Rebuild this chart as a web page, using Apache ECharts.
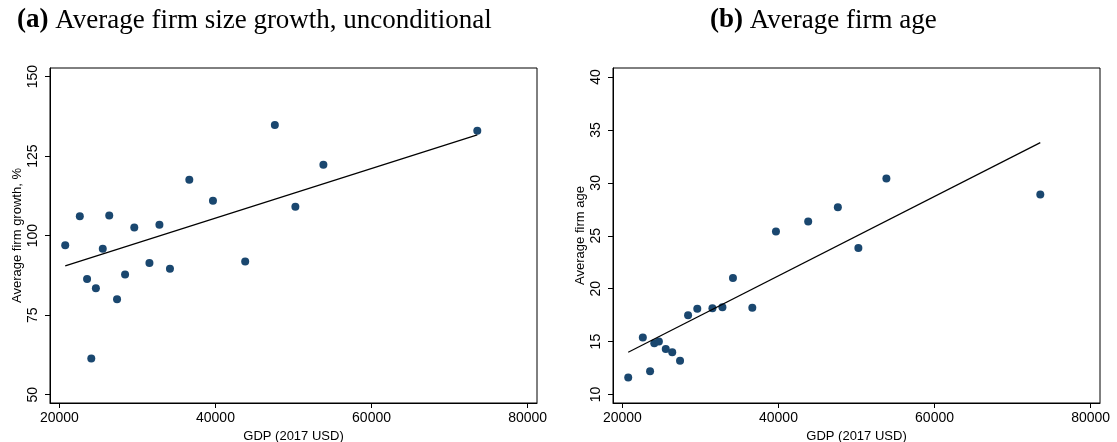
<!DOCTYPE html>
<html>
<head>
<meta charset="utf-8">
<script src="https://cdn.jsdelivr.net/npm/echarts@6/dist/echarts.min.js"></script>
<style>
  html, body { margin: 0; padding: 0; background: #fff; }
  #main { width: 1117px; height: 442px; }
</style>
</head>
<body>
<div id="main"></div>
<script>
// GDP per country (2017 USD), same for both panels
var gdp = [20750, 22620, 23550, 24090, 24680, 25560, 26390, 27390, 28420, 29600,
           31540, 32820, 34170, 36650, 39680, 43810, 47610, 50240, 53830, 73550];

// panel (a): average firm size growth, %
var growth = [97.0, 106.1, 86.4, 61.4, 83.5, 95.9, 106.3, 80.0, 87.8, 102.6,
              91.4, 103.4, 89.6, 117.6, 111.0, 91.9, 134.8, 109.1, 122.3, 133.0];

// panel (b): average firm age
var age = [11.6, 15.4, 12.2, 14.85, 15.0, 14.3, 14.0, 13.2, 17.5, 18.1,
           18.15, 18.25, 21.0, 18.2, 25.4, 26.35, 27.7, 23.85, 30.4, 28.9];

// fitted line end points
var fitGrowth = [[20750, 90.5], [73550, 131.7]];
var fitAge = [[20750, 14.0], [73550, 33.8]];

var xTicks = [20000, 40000, 60000, 80000];
var growthTicks = [50, 75, 100, 125, 150];
var ageTicks = [10, 15, 20, 25, 30, 35, 40];

var navy = '#1a476f';
var sans = 'Liberation Sans, Arial, sans-serif';

function pairs(xs, ys) {
  var out = [];
  for (let i = 0; i < xs.length; i++) {
    out.push([xs[i], ys[i]]);
  }
  return out;
}

function plain(v) {
  return String(v);
}

function xAxisFor(idx) {
  return {
    type: 'value',
    gridIndex: idx,
    min: 18800,
    max: 81200,
    name: 'GDP (2017 USD)',
    nameLocation: 'middle',
    nameGap: 23,
    nameTextStyle: { fontFamily: sans, fontSize: 13, color: '#000' },
    splitLine: { show: false },
    axisLine: { show: true, onZero: false, lineStyle: { color: '#000', width: 1 } },
    axisTick: { show: true, length: 5, customValues: xTicks, lineStyle: { color: '#000' } },
    axisLabel: { customValues: xTicks, formatter: plain, margin: 8, fontFamily: sans, fontSize: 14, color: '#000' }
  };
}

function yAxisFor(idx, min, max, ticks, name) {
  return {
    type: 'value',
    gridIndex: idx,
    min: min,
    max: max,
    name: name,
    nameLocation: 'middle',
    nameGap: 26,
    nameTextStyle: { fontFamily: sans, fontSize: 13, color: '#000' },
    splitLine: { show: false },
    axisLine: { show: true, onZero: false, lineStyle: { color: '#000', width: 1 } },
    axisTick: { show: true, length: 5, customValues: ticks, lineStyle: { color: '#000' } },
    axisLabel: { customValues: ticks, formatter: plain, rotate: 90, margin: 10, fontFamily: sans, fontSize: 14, color: '#000' }
  };
}

var serif = 'Liberation Serif, Times New Roman, serif';
var titleRich = {
  b: { fontFamily: serif, fontSize: 27, fontWeight: 'bold', color: '#000' },
  t: { fontFamily: serif, fontSize: 27, fontWeight: 'normal', color: '#000' }
};

var myChart = echarts.init(document.getElementById('main'));

var option = {
  animation: false,
  backgroundColor: '#fff',
  title: [
    { text: '{b|(a)}{t| Average firm size growth, unconditional}', left: 12, top: 2,
      textStyle: { fontWeight: 'normal', rich: titleRich } },
    { text: '{b|(b)}{t| Average firm age}', left: 705, top: 2,
      textStyle: { fontWeight: 'normal', rich: titleRich } }
  ],
  grid: [
    { left: 50, top: 68, width: 487, height: 335, outerBoundsMode: 'none',
      show: true, borderColor: '#000', borderWidth: 1 },
    { left: 613, top: 68, width: 487, height: 335, outerBoundsMode: 'none',
      show: true, borderColor: '#000', borderWidth: 1 }
  ],
  xAxis: [xAxisFor(0), xAxisFor(1)],
  yAxis: [
    yAxisFor(0, 47.4, 152.7, growthTicks, 'Average firm growth, %'),
    yAxisFor(1, 9.2, 40.85, ageTicks, 'Average firm age')
  ],
  series: [
    {
      type: 'scatter', xAxisIndex: 0, yAxisIndex: 0,
      data: pairs(gdp, growth), symbolSize: 8,
      itemStyle: { color: navy, opacity: 1 }
    },
    {
      type: 'line', xAxisIndex: 0, yAxisIndex: 0,
      data: fitGrowth, showSymbol: false, silent: true,
      lineStyle: { color: '#000', width: 1.2 }
    },
    {
      type: 'scatter', xAxisIndex: 1, yAxisIndex: 1,
      data: pairs(gdp, age), symbolSize: 8,
      itemStyle: { color: navy, opacity: 1 }
    },
    {
      type: 'line', xAxisIndex: 1, yAxisIndex: 1,
      data: fitAge, showSymbol: false, silent: true,
      lineStyle: { color: '#000', width: 1.2 }
    }
  ]
};

myChart.setOption(option);
</script>
</body>
</html>
